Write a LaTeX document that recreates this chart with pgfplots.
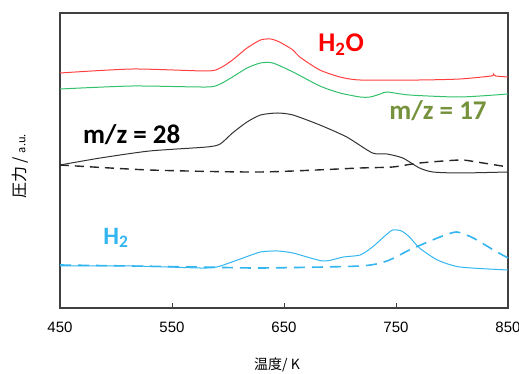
\documentclass[border=0pt]{standalone}
\usepackage{pgfplots}
\pgfplotsset{compat=1.18}
\usepackage{fontspec}
\setmainfont{Liberation Sans}
\newfontfamily\calfont{Carlito}
\newfontfamily\jpfont{Noto Sans CJK JP}
\usetikzlibrary{calc}
\definecolor{cred}{HTML}{FF4040}
\definecolor{cgreen}{HTML}{33C06B}
\definecolor{cblue}{HTML}{33B5F0}
\definecolor{colive}{HTML}{76923C}
\definecolor{frame}{HTML}{404040}
\begin{document}
\begin{tikzpicture}
\begin{axis}[name=ax,
  scale only axis, width=448pt, height=295pt,
  xmin=450, xmax=850, ymin=0, ymax=295,
  xtick={450,550,650,750,850}, ytick=\empty,
  tick align=inside, xtick pos=bottom, major tick length=5pt,
  axis line style={frame, line width=1.3pt},
  every tick/.style={frame, line width=1pt},
  /pgf/number format/assume math mode=true,
  ticklabel style={font=\fontsize{15}{15}\selectfont, text=black},
  xticklabel style={yshift=-10pt},
  xlabel={\jpfont\fontsize{14}{14}\selectfont 温度/ K},
  xlabel style={at={(axis description cs:0.5,0)}, anchor=center, yshift=-57pt, xshift=-7pt},
  ylabel={\jpfont\fontsize{16}{16}\selectfont 圧力 / {\fontsize{11}{11}\selectfont a.u.}},
  ylabel style={at={(axis description cs:0,0.48)}, anchor=center, yshift=40pt},
  clip=false,
]
\addplot[cred, line width=1pt, smooth, tension=0.4] coordinates {
(450,235) (515,239) (581,237) (593,240) (604,248) (617,260) (629,268) (638,269) (646,266) (658,258) (664,251) (682,238) (700,231) (718,228) (771,228) (807,229) (835,232) (837,234) (839,232) (850,231)};
\addplot[cgreen, line width=1pt, smooth, tension=0.4] coordinates {
(450,219) (515,222) (581,221) (593,224) (604,231) (617,240) (629,245) (640,245) (658,236) (682,222) (700,215) (718,211) (727,211) (736,214) (742,216) (762,213) (807,211) (850,214)};
\addplot[black!80, line width=1pt, smooth, tension=0.4] coordinates {
(450,143) (486,150) (530,157) (581,161) (593,164) (604,175) (617,186) (629,193) (644,195) (658,193) (682,183) (706,171) (729,155) (742,154) (756,150) (771,140) (783,136) (807,135) (850,136)};
\addplot[black!85, line width=1.4pt, dash pattern=on 9pt off 6pt, smooth, tension=0.4] coordinates {
(450,143) (530,138) (629,136) (718,140) (747,141) (771,145) (807,148) (822,146) (850,141)};
\addplot[cblue, line width=1pt, smooth, tension=0.4] coordinates {
(450,42) (515,42) (575,40) (590,41) (611,49) (629,56) (644,57) (658,55) (685,47) (703,51) (718,53) (729,61) (740,72) (747,78) (755,77) (762,71) (771,60) (787,48) (807,41) (850,38)};
\addplot[cblue, line width=1.6pt, dash pattern=on 11pt off 7pt, smooth, tension=0.4] coordinates {
(450,43) (575,41) (629,40) (718,42) (742,47) (762,58) (787,70) (804,76) (819,70) (837,58) (850,50)};
\node[text=red, font=\calfont\bfseries\fontsize{27}{27}\selectfont] at (axis cs:701,263) {H\textsubscript{2}O};
\node[text=colive, font=\calfont\bfseries\fontsize{27}{27}\selectfont] at (axis cs:787.5,197) {m/z = 17};
\node[text=black, font=\calfont\bfseries\fontsize{27}{27}\selectfont] at (axis cs:514,173) {m/z = 28};
\node[text=cblue, font=\calfont\bfseries\fontsize{25}{25}\selectfont] at (axis cs:500,70) {H\textsubscript{2}};
\end{axis}
\pgfresetboundingbox
\path ($(ax.south west)+(-60pt,-66pt)$) rectangle ($(ax.north east)+(11pt,13pt)$);
\end{tikzpicture}
\end{document}
